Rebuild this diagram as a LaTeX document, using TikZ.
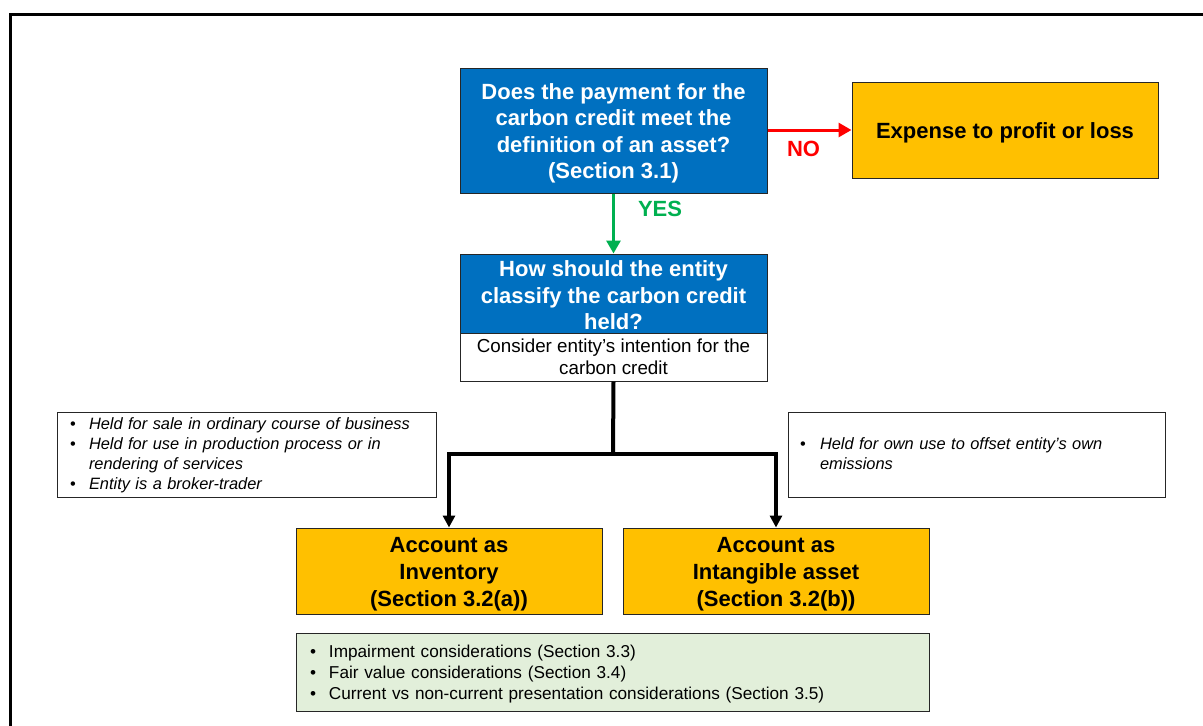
\documentclass[tikz,border=0pt]{standalone}
\usepackage{fontspec}
\setmainfont{Liberation Sans}
\usetikzlibrary{arrows.meta}
\definecolor{qblue}{HTML}{0070C0}
\definecolor{qyellow}{HTML}{FFC000}
\definecolor{qred}{HTML}{FF0000}
\definecolor{qgreen}{HTML}{00B050}
\definecolor{qlight}{HTML}{E2EFDA}
\definecolor{qedge}{HTML}{262626}
\newcommand{\bitem}[1]{\par\hangindent=19pt\hangafter=1\noindent\makebox[19pt][l]{\textup{•}}#1\par}
\newcommand{\lo}[1]{\rule{0pt}{#1}}
\begin{document}
\begin{tikzpicture}[x=1pt,y=-1pt,
  box/.style={draw=qedge, line width=1pt, inner sep=0pt, align=center},
  bluebox/.style={box, fill=qblue, text=white, font=\bfseries\fontsize{22}{26.5}\selectfont, minimum width=307},
  yellowbox/.style={box, fill=qyellow, text=black, font=\bfseries\fontsize{22}{27}\selectfont},
  notebox/.style={box, fill=white, align=left, inner xsep=13pt, font=\itshape\fontsize{16.4}{20}\selectfont},
  flow/.style={line width=4pt, draw=black, -{Triangle[length=12pt,width=12pt]}},
  lbl/.style={font=\bfseries\fontsize{22}{24}\selectfont, inner sep=0pt}]
\useasboundingbox (0,0) rectangle (1203,726);
\fill[white] (0,0) rectangle (1203,726);
\draw[line width=2.5pt] (10.5,726) -- (10.5,14.5) -- (1203,14.5);

\node[bluebox, minimum height=125] (q1) at (613.5,130.5)
  {\lo{22pt}Does the payment for the\\carbon credit meet the\\definition of an asset?\\(Section 3.1)};
\node[yellowbox, minimum width=306, minimum height=96] (exp) at (1005,130)
  {\lo{22pt}Expense to profit or loss};
\node[bluebox, minimum height=79] (q2) at (613.5,293.5)
  {\lo{20pt}How should the entity\\classify the carbon credit\\held?};
\node[box, fill=white, minimum width=307, minimum height=48, font=\fontsize{18.8}{22}\selectfont] (sub) at (613.5,357)
  {Consider entity’s intention for the\\carbon credit};
\node[notebox, minimum width=379, minimum height=85, text width=353] (nl) at (246.5,454.5)
  {\vspace*{-6pt}\bitem{Held for sale in ordinary course of business}
   \bitem{Held for use in production process or in\newline rendering of services}
   \bitem{Entity is a broker-trader}};
\node[notebox, inner xsep=12pt, minimum width=377, minimum height=85, text width=353] (nr) at (976.5,454.5)
  {\vspace*{-10pt}\par\hangindent=20pt\hangafter=1\noindent\makebox[20pt][l]{\textup{•}}Held for own use to offset entity’s own\newline emissions\par};
\node[yellowbox, minimum width=306, minimum height=86] (inv) at (449,571)
  {\lo{22pt}Account as\\Inventory\\(Section 3.2(a))};
\node[yellowbox, minimum width=306, minimum height=86] (int) at (776,571)
  {\lo{22pt}Account as\\Intangible asset\\(Section 3.2(b))};
\node[box, fill=qlight, align=left, inner xsep=14pt, minimum width=633, minimum height=78, text width=605, font=\fontsize{17.2}{21}\selectfont] (cons) at (612.5,672)
  {\vspace*{-4pt}\bitem{Impairment considerations (Section 3.3)}
   \bitem{Fair value considerations (Section 3.4)}
   \bitem{Current vs non-current presentation considerations (Section 3.5)}};

\draw[line width=3pt, qred, -{Triangle[length=13pt,width=14pt]}] (q1.east |- exp.west) -- node[lbl, text=qred, below=10pt, xshift=-6pt] {NO} (exp.west);
\draw[line width=3pt, qgreen, -{Triangle[length=13pt,width=14pt]}] (q1.south) -- node[lbl, text=qgreen, pos=0.25, anchor=west, xshift=23pt] {YES} (q2.north);

\coordinate (j) at (613,454);
\draw[line width=4pt] (sub.south) -- (j);
\draw[flow] ([xshift=2pt]j) -| (inv.north);
\draw[flow] ([xshift=-2pt]j) -| (int.north);
\end{tikzpicture}
\end{document}
